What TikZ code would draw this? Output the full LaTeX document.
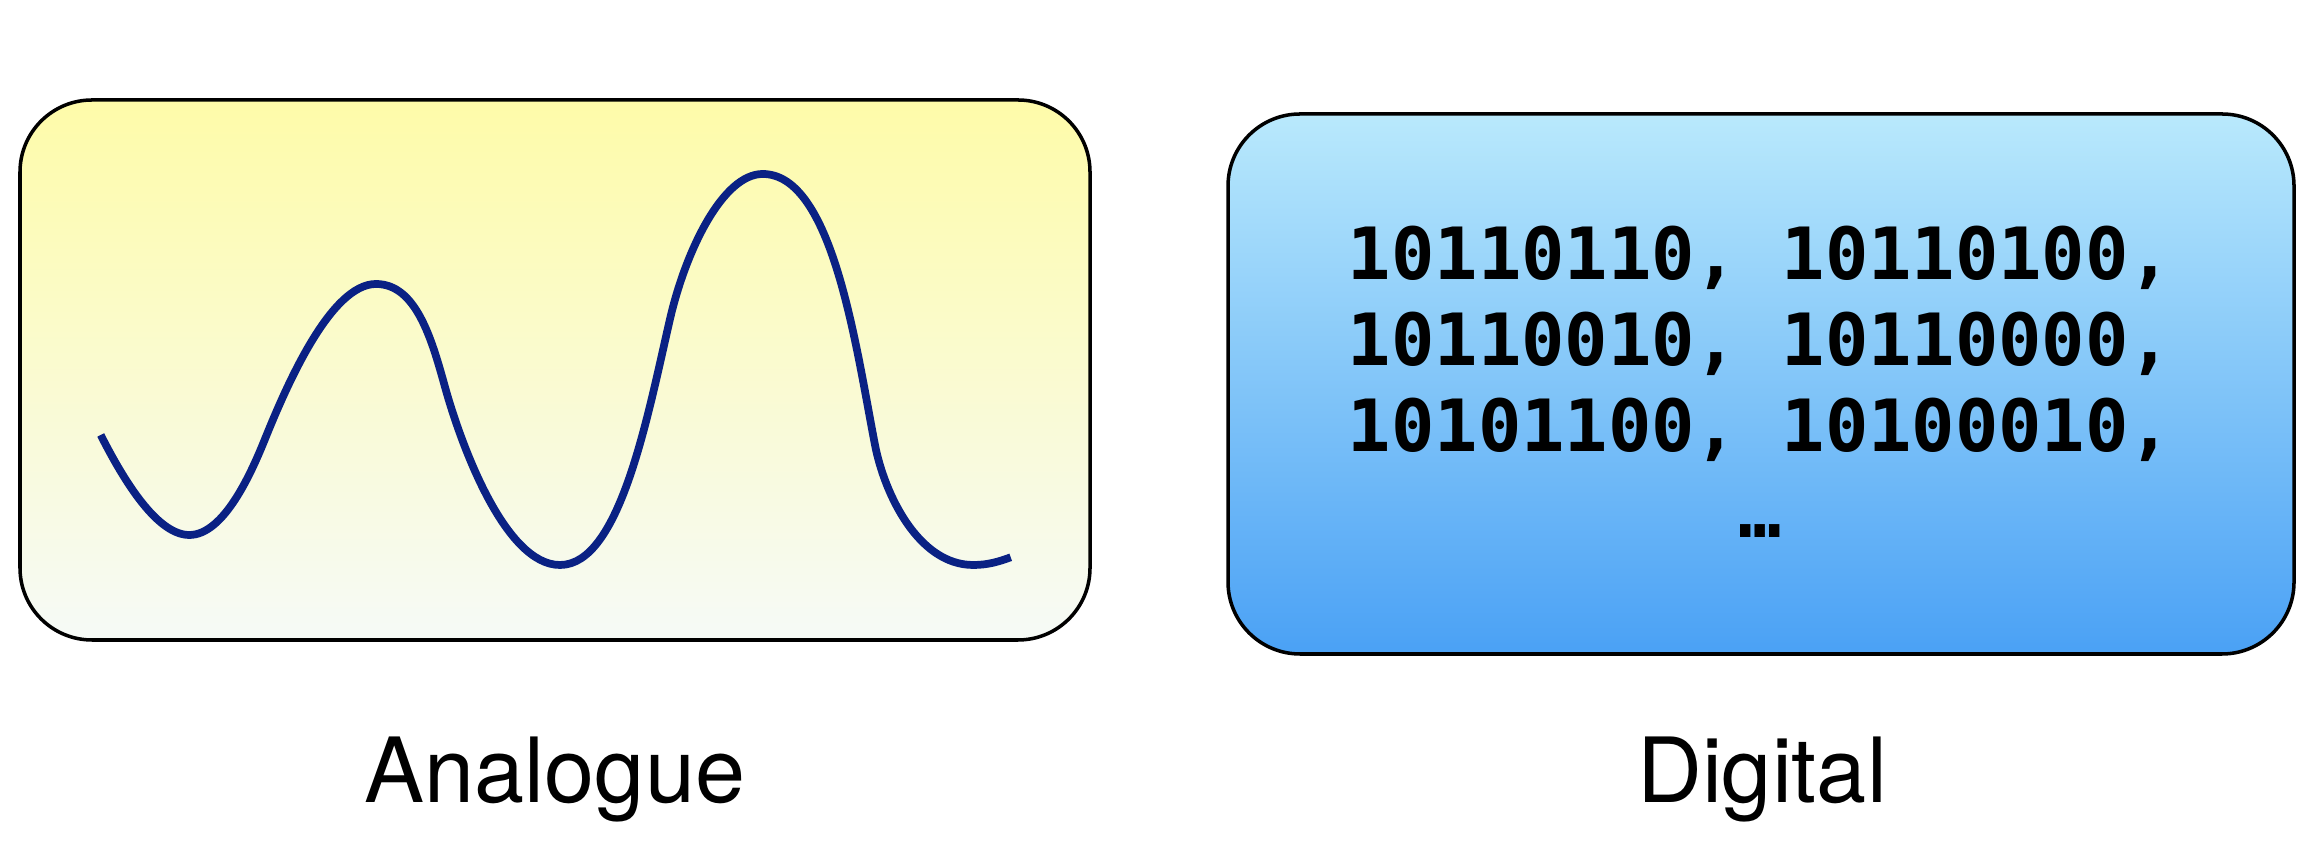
\documentclass[tikz,border=0pt]{standalone}
\usepackage{fontspec}
\usepackage{tikz}
\usetikzlibrary{positioning}
\newfontfamily\labelfont{TeX Gyre Heros}
\newfontfamily\bitsfont{DejaVu Sans Mono}
\definecolor{wavecol}{HTML}{0A2184}
\definecolor{yeltop}{HTML}{FEFBA9}
\definecolor{yelbot}{HTML}{F6FAF7}
\definecolor{bluetop}{HTML}{B9E9FC}
\definecolor{bluebot}{HTML}{4AA1F5}
\tikzset{
  panel/.style={draw=black, line width=1pt, rounded corners=0.72cm},
  wave/.style={draw=wavecol, line width=2.2pt},
  caption/.style={font=\labelfont\fontsize{25.6}{30}\selectfont, anchor=base},
  bits/.style={font=\bitsfont\bfseries\fontsize{20.5}{24.5}\selectfont, align=center, anchor=base}
}

\begin{document}
\begin{tikzpicture}
    \useasboundingbox (0,0) rectangle (23.24,8.52);

    % analogue panel
    \draw[panel, top color=yeltop, bottom color=yelbot] (0.20,2.12) rectangle (10.90,7.52);
    \draw[wave] (1.007,4.17)
      .. controls +(-63:0.4) and +(180:0.35) .. (1.893,3.17)
      .. controls +(0:0.35) and +(248:0.35) .. (2.65,4.13)
      .. controls +(68:0.6) and +(180:0.45) .. (3.76,5.68)
      .. controls +(0:0.4) and +(105.5:0.5) .. (4.45,4.65)
      .. controls +(-74.5:0.6) and +(180:0.55) .. (5.60,2.87)
      .. controls +(0:0.6) and +(257:1.0) .. (6.70,5.33)
      .. controls +(77:0.7) and +(180:0.4) .. (7.627,6.78)
      .. controls +(0:0.7) and +(101:1.0) .. (8.75,4.07)
      .. controls +(-79:0.5) and +(180:0.55) .. (9.733,2.87)
      .. controls +(0:0.15) and +(200:0.12) .. (10.107,2.947);

    % digital panel
    \draw[panel, top color=bluetop, bottom color=bluebot] (12.28,1.98) rectangle (22.94,7.38);
    \node[bits] (bytes) at (17.60,3.14) {10110110, 10110100,\\10110010, 10110000,\\10101100, 10100010,\\…};

    \node[caption] (ana) at (5.55,0.49) {Analogue};
    \node[caption] (dig) at (17.62,0.49) {Digital};

\end{tikzpicture}
\end{document}
